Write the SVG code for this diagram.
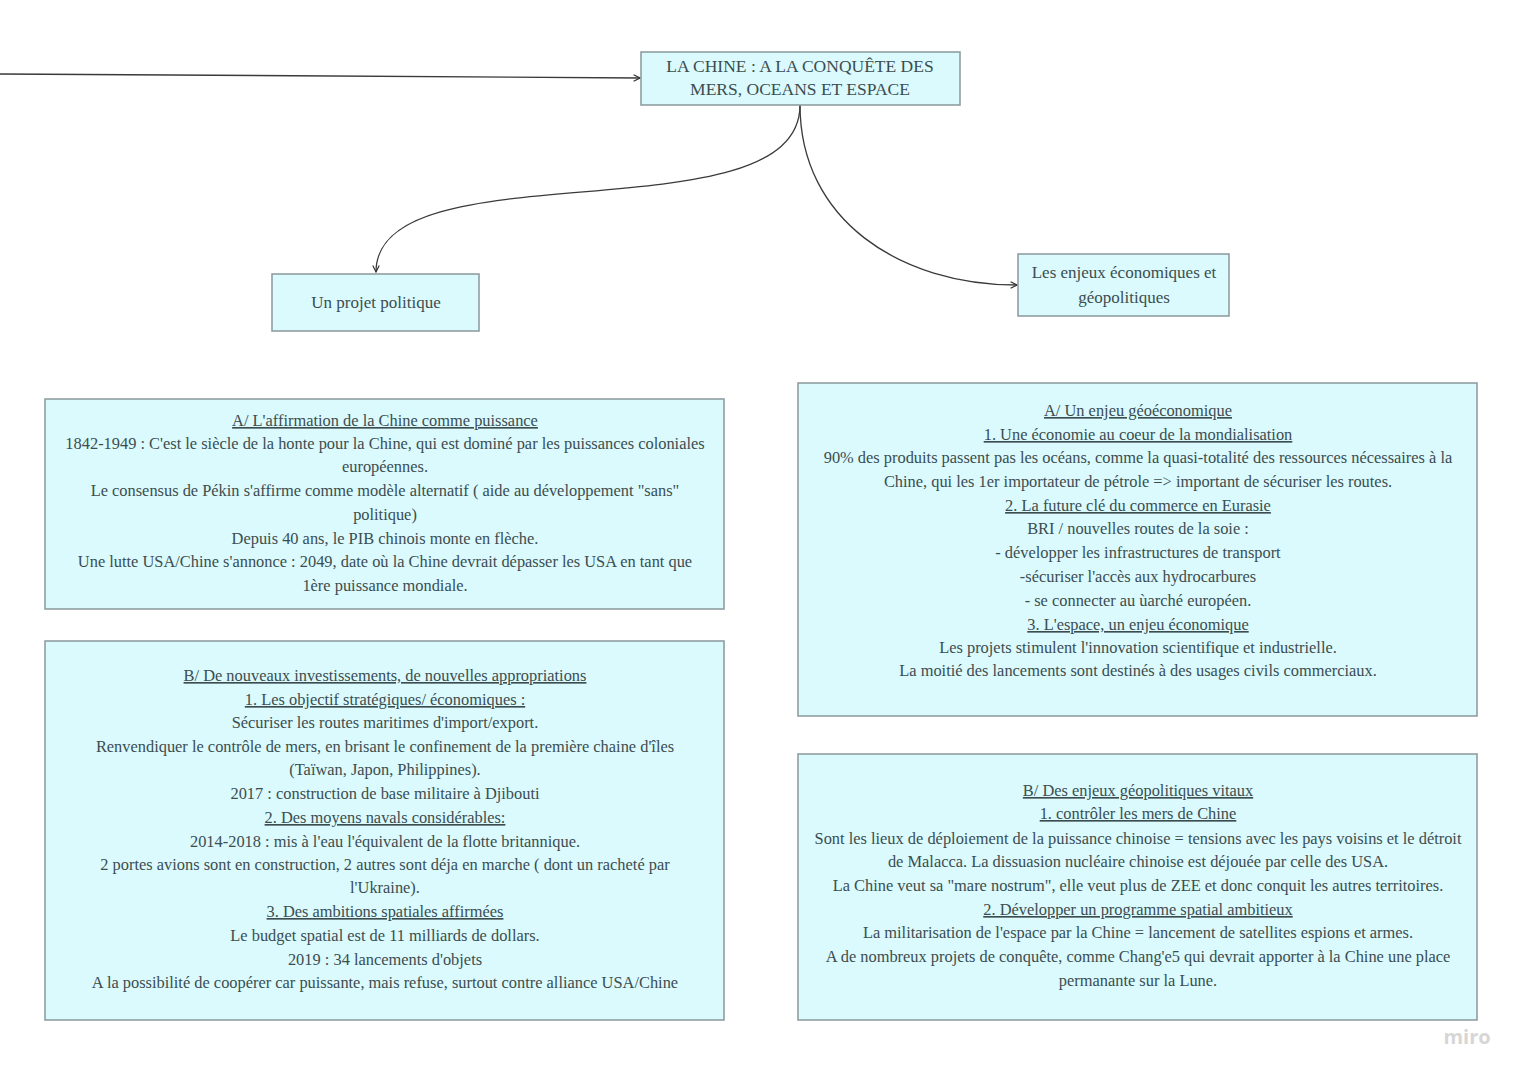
<svg xmlns="http://www.w3.org/2000/svg" width="1527" height="1080" viewBox="0 0 1527 1080">
<defs>
<marker id="arr" viewBox="0 0 10 10" refX="9" refY="5" markerWidth="8" markerHeight="8" markerUnits="userSpaceOnUse" orient="auto">
<path d="M1,1 L9,5 L1,9" fill="none" stroke="#333" stroke-width="1.5"/>
</marker>
<style>
.box{fill:#dafafd;stroke:#8f9ea0;stroke-width:1.6}
.t{font-family:"Liberation Serif",serif;font-size:16.4px;fill:#3c4d50;text-anchor:middle}
.s{font-size:17px}
.h{font-size:17.5px}
.u{text-decoration:underline}
.c{fill:none;stroke:#3a3a3a;stroke-width:1.3}
</style>
</defs>
<rect width="1527" height="1080" fill="#ffffff"/>
<g id="connectors">
<path class="c" d="M0,74 C200,74 450,78 640,78" marker-end="url(#arr)"/>
<path class="c" d="M800,105 C800,240 376,145 376,272" marker-end="url(#arr)"/>
<path class="c" d="M800,105 C800,220 900,285 1017,285" marker-end="url(#arr)"/>
</g>
<g id="title">
<rect class="box" x="641" y="52" width="319" height="53"/>
<text class="t h" x="800" y="72">LA CHINE : A LA CONQUÊTE DES</text>
<text class="t h" x="800" y="95">MERS, OCEANS ET ESPACE</text>
</g>
<g id="projet">
<rect class="box" x="272" y="274" width="207" height="57"/>
<text class="t s" x="376" y="308">Un projet politique</text>
</g>
<g id="enjeux">
<rect class="box" x="1018" y="254" width="211" height="62"/>
<text class="t s" x="1124" y="278">Les enjeux économiques et</text>
<text class="t s" x="1124" y="303">géopolitiques</text>
</g>
<g id="left-a">
<rect class="box" x="45" y="399" width="679" height="210"/>
<text class="t u" x="385" y="426">A/ L'affirmation de la Chine comme puissance</text>
<text class="t" x="385" y="449">1842-1949 : C'est le siècle de la honte pour la Chine, qui est dominé par les puissances coloniales</text>
<text class="t" x="385" y="472">européennes.</text>
<text class="t" x="385" y="496">Le consensus de Pékin s'affirme comme modèle alternatif ( aide au développement "sans"</text>
<text class="t" x="385" y="520">politique)</text>
<text class="t" x="385" y="544">Depuis 40 ans, le PIB chinois monte en flèche.</text>
<text class="t" x="385" y="567">Une lutte USA/Chine s'annonce : 2049, date où la Chine devrait dépasser les USA en tant que</text>
<text class="t" x="385" y="591">1ère puissance mondiale.</text>
</g>
<g id="left-b">
<rect class="box" x="45" y="641" width="679" height="379"/>
<text class="t u" x="385" y="681">B/ De nouveaux investissements, de nouvelles appropriations</text>
<text class="t u" x="385" y="705">1. Les objectif stratégiques/ économiques :</text>
<text class="t" x="385" y="728">Sécuriser les routes maritimes d'import/export.</text>
<text class="t" x="385" y="752">Renvendiquer le contrôle de mers, en brisant le confinement de la première chaine d'îles</text>
<text class="t" x="385" y="775">(Taïwan, Japon, Philippines).</text>
<text class="t" x="385" y="799">2017 : construction de base militaire à Djibouti</text>
<text class="t u" x="385" y="823">2. Des moyens navals considérables:</text>
<text class="t" x="385" y="847">2014-2018 : mis à l'eau l'équivalent de la flotte britannique.</text>
<text class="t" x="385" y="870">2 portes avions sont en construction, 2 autres sont déja en marche ( dont un racheté par</text>
<text class="t" x="385" y="893">l'Ukraine).</text>
<text class="t u" x="385" y="917">3. Des ambitions spatiales affirmées</text>
<text class="t" x="385" y="941">Le budget spatial est de 11 milliards de dollars.</text>
<text class="t" x="385" y="965">2019 : 34 lancements d'objets</text>
<text class="t" x="385" y="988">A la possibilité de coopérer car puissante, mais refuse, surtout contre alliance USA/Chine</text>
</g>
<g id="right-a">
<rect class="box" x="798" y="383" width="679" height="333"/>
<text class="t u" x="1138" y="416">A/ Un enjeu géoéconomique</text>
<text class="t u" x="1138" y="440">1. Une économie au coeur de la mondialisation</text>
<text class="t" x="1138" y="463">90% des produits passent pas les océans, comme la quasi-totalité des ressources nécessaires à la</text>
<text class="t" x="1138" y="487">Chine, qui les 1er importateur de pétrole =&gt; important de sécuriser les routes.</text>
<text class="t u" x="1138" y="511">2. La future clé du commerce en Eurasie</text>
<text class="t" x="1138" y="534">BRI / nouvelles routes de la soie :</text>
<text class="t" x="1138" y="558">- développer les infrastructures de transport</text>
<text class="t" x="1138" y="582">-sécuriser l'accès aux hydrocarbures</text>
<text class="t" x="1138" y="606">- se connecter au ùarché européen.</text>
<text class="t u" x="1138" y="630">3. L'espace, un enjeu économique</text>
<text class="t" x="1138" y="653">Les projets stimulent l'innovation scientifique et industrielle.</text>
<text class="t" x="1138" y="676">La moitié des lancements sont destinés à des usages civils commerciaux.</text>
</g>
<g id="right-b">
<rect class="box" x="798" y="754" width="679" height="266"/>
<text class="t u" x="1138" y="796">B/ Des enjeux géopolitiques vitaux</text>
<text class="t u" x="1138" y="819">1. contrôler les mers de Chine</text>
<text class="t" x="1138" y="844">Sont les lieux de déploiement de la puissance chinoise = tensions avec les pays voisins et le détroit</text>
<text class="t" x="1138" y="867">de Malacca. La dissuasion nucléaire chinoise est déjouée par celle des USA.</text>
<text class="t" x="1138" y="891">La Chine veut sa "mare nostrum", elle veut plus de ZEE et donc conquit les autres territoires.</text>
<text class="t u" x="1138" y="915">2. Développer un programme spatial ambitieux</text>
<text class="t" x="1138" y="938">La militarisation de l'espace par la Chine = lancement de satellites espions et armes.</text>
<text class="t" x="1138" y="962">A de nombreux projets de conquête, comme Chang'e5 qui devrait apporter à la Chine une place</text>
<text class="t" x="1138" y="986">permanante sur la Lune.</text>
</g>
<text x="1467" y="1044" style="font-family:'Open Sans',sans-serif;font-size:20px;font-weight:bold;fill:#d6d6d6;text-anchor:middle">miro</text>
</svg>
